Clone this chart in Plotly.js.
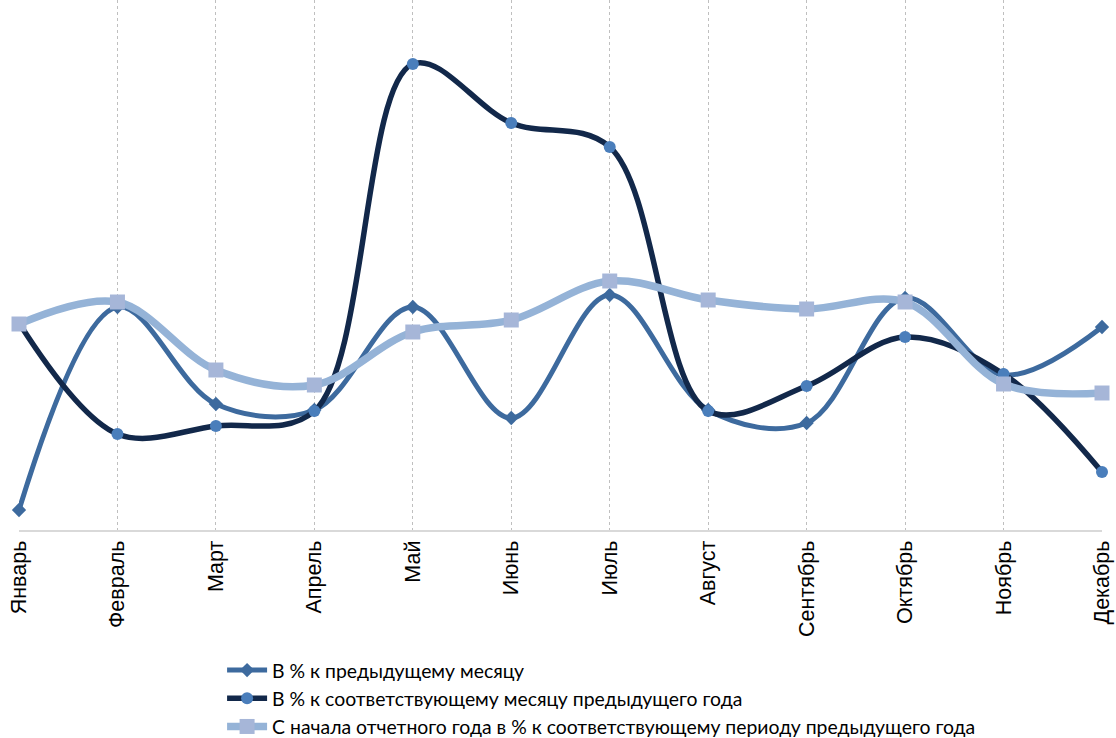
<!DOCTYPE html>
<html>
<head>
<meta charset="utf-8">
<script src="https://cdn.plot.ly/plotly-3.0.1.min.js"></script>
<style>html,body{margin:0;padding:0;background:#fff;}#chart{width:1116px;height:738px;}</style>
</head>
<body>
<div id="chart"></div>
<script>
const months = ["Январь","Февраль","Март","Апрель","Май","Июнь","Июль","Август","Сентябрь","Октябрь","Ноябрь","Декабрь"];
const seriesNames = [
  "В % к предыдущему месяцу",
  "В % к соответствующему месяцу предыдущего года",
  "С начала отчетного года в % к соответствующему периоду предыдущего года"
];
const prevMonth = [4, 44.6, 25.2, 24, 44.6, 22.4, 47, 24, 21.4, 46.4, 31, 40.6];
const sameMonthPrevYear = [41.4, 19.2, 20.8, 23.8, 93.2, 81.4, 76.6, 23.8, 28.8, 38.6, 31.2, 11.6];
const ytdPrevYear = [41.2, 45.6, 32, 29, 39.6, 42, 49.8, 46, 44.2, 45.6, 29.2, 27.4];

const traces = [
  {x: months, y: prevMonth, name: seriesNames[0], type: 'scatter', mode: 'lines+markers', cliponaxis: false,
   line: {color: '#3D6A9E', width: 5, shape: 'spline', smoothing: 1},
   marker: {symbol: 'diamond', size: 11, color: '#3D6A9E'}},
  {x: months, y: sameMonthPrevYear, name: seriesNames[1], type: 'scatter', mode: 'lines+markers', cliponaxis: false,
   line: {color: '#12284A', width: 5.5, shape: 'spline', smoothing: 1},
   marker: {symbol: 'circle', size: 12, color: '#4A7EBB'}},
  {x: months, y: ytdPrevYear, name: seriesNames[2], type: 'scatter', mode: 'lines+markers', cliponaxis: false,
   line: {color: '#95B3D7', width: 7.5, shape: 'spline', smoothing: 1},
   marker: {symbol: 'square', size: 15, color: '#A6B6D8'}}
];

const layout = {
  width: 1116, height: 738,
  margin: {l: 19, r: 14, t: 0, b: 208, autoexpand: false},
  paper_bgcolor: '#fff', plot_bgcolor: '#fff',
  showlegend: true,
  legend: {
    xref: 'container', yref: 'container',
    x: 0.199, y: 0.118, xanchor: 'left', yanchor: 'top',
    orientation: 'v', tracegroupgap: 0,
    font: {family: 'Lato, "Open Sans", sans-serif', size: 19.4, color: '#000'},
    itemwidth: 40
  },
  xaxis: {
    type: 'category', range: [0, 11], automargin: false,
    showgrid: true, gridcolor: '#BFBFBF', griddash: 'dot', gridwidth: 1,
    showline: true, linecolor: '#D9D9D9', linewidth: 2,
    ticks: '', tickangle: -90,
    tickfont: {family: '"Liberation Sans", Arial, sans-serif', size: 21.5, color: '#000'},
    zeroline: false, fixedrange: true
  },
  yaxis: {
    range: [0, 106], automargin: false, showgrid: false, showticklabels: false, zeroline: false,
    showline: false, ticks: '', fixedrange: true
  }
};

Plotly.newPlot('chart', traces, layout, {displayModeBar: false, staticPlot: true});
</script>
</body>
</html>
